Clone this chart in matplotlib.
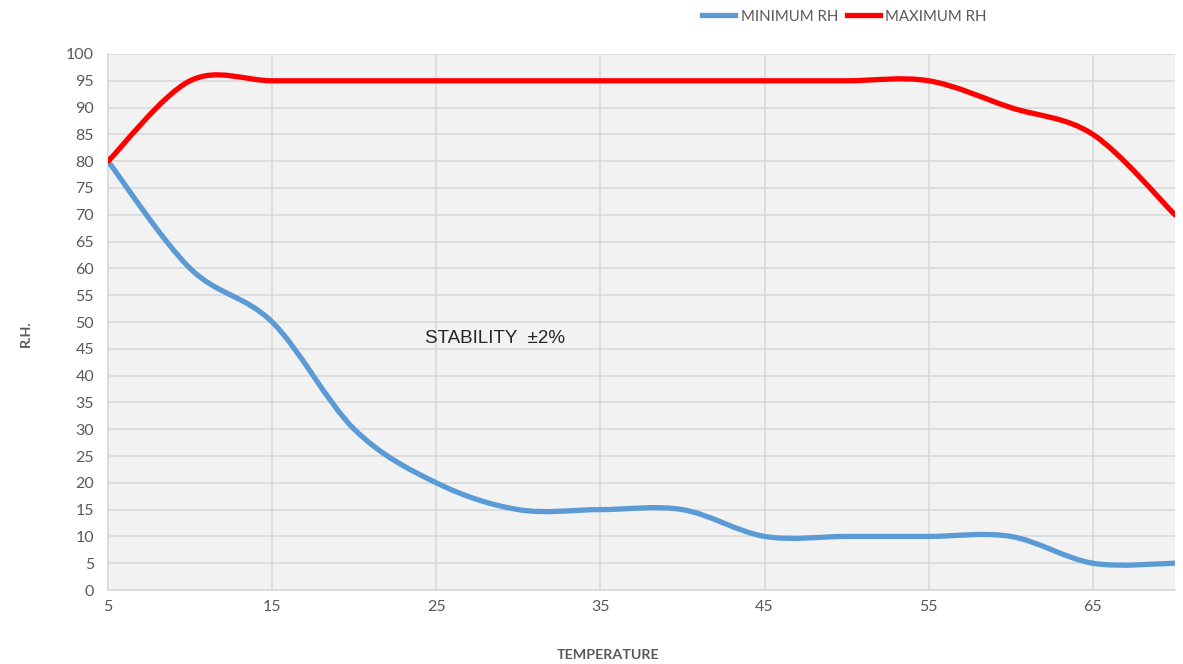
import numpy as np
import matplotlib.pyplot as plt
from matplotlib.path import Path
from matplotlib.patches import PathPatch
from matplotlib.lines import Line2D

# data
temperature = [5, 10, 15, 20, 25, 30, 35, 40, 45, 50, 55, 60, 65, 70]
minimum_rh = [80, 60, 50, 30, 20, 15, 15, 15, 10, 10, 10, 10, 5, 5]
maximum_rh = [80, 95, 95, 95, 95, 95, 95, 95, 95, 95, 95, 90, 85, 70]
x_ticks = [5, 15, 25, 35, 45, 55, 65]
y_ticks = list(range(0, 101, 5))

blue = "#5B9BD5"
red = "#FF0000"
grid_col = "#D9D9D9"
text_col = "#595959"


def smooth_path(xs, ys):
    # Excel-style smoothed line: cubic Bezier through each point (Catmull-Rom)
    pts = np.column_stack([xs, ys]).astype(float)
    ext = np.vstack([pts[0], pts, pts[-1]])
    verts = [pts[0]]
    codes = [Path.MOVETO]
    for i in range(len(pts) - 1):
        p0, p1, p2, p3 = ext[i], ext[i + 1], ext[i + 2], ext[i + 3]
        verts += [p1 + (p2 - p0) / 6, p2 - (p3 - p1) / 6, p2]
        codes += [Path.CURVE4] * 3
    return Path(verts, codes)


fig = plt.figure(figsize=(11.83, 6.64), dpi=100)
ax = fig.add_axes([0.0913, 0.1114, 0.9019, 0.8073])
ax.set_facecolor("#F2F2F2")

for ys, col in [(minimum_rh, blue), (maximum_rh, red)]:
    ax.add_patch(PathPatch(smooth_path(temperature, ys), facecolor="none",
                           edgecolor=col, lw=3.8, capstyle="round", zorder=3))

ax.set_xlim(5, 70)
ax.set_ylim(0, 100)
ax.set_xticks(x_ticks)
ax.set_yticks(y_ticks)
ax.grid(True, color=grid_col, lw=1.2)
ax.set_axisbelow(True)
for s in ["top", "right"]:
    ax.spines[s].set_visible(False)
for s in ["left", "bottom"]:
    ax.spines[s].set_color(grid_col)
    ax.spines[s].set_linewidth(1.2)
ax.tick_params(length=0, colors=text_col, labelsize=11.5)
ax.tick_params(axis="y", pad=10)
ax.tick_params(axis="x", pad=7)
for lab in ax.get_xticklabels() + ax.get_yticklabels():
    lab.set_fontfamily("Lato")

fig.text(0.022, 0.497, "R.H.", rotation=90, ha="center", va="center",
         fontsize=10.3, fontweight="bold", color=text_col, family="Lato")
fig.text(0.514, 0.013, "TEMPERATURE", ha="center", va="center",
         fontsize=10.3, fontweight="bold", color=text_col, family="Lato")

ax.text(24.3, 47, "STABILITY  \u00b12%", ha="left", va="center",
        fontsize=13.5, color="#262626", family="Liberation Sans")

handles = [Line2D([], [], color=blue, lw=3.8), Line2D([], [], color=red, lw=3.8)]
fig.legend(handles, ["MINIMUM RH", "MAXIMUM RH"], loc="center",
           bbox_to_anchor=(0.714, 0.975), ncol=2, frameon=False,
           handlelength=2.2, handletextpad=0.35, columnspacing=0.6,
           prop={"family": "Lato", "size": 10.8}, labelcolor=text_col)

fig.savefig("out.png", dpi=100)
